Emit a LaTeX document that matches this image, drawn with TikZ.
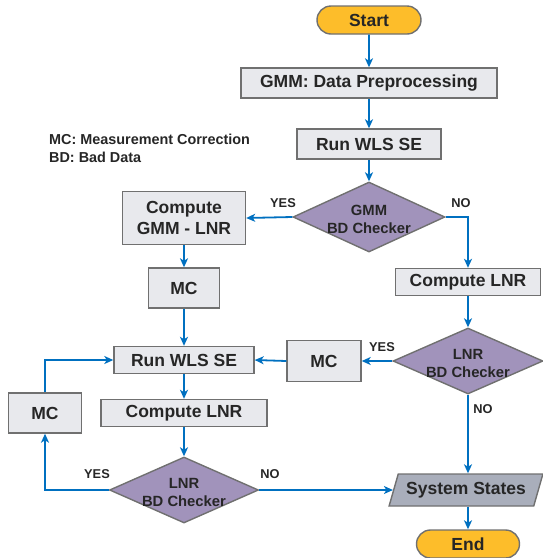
\documentclass[tikz,border=0pt]{standalone}
\usepackage{fontspec}
\setmainfont{Liberation Sans}
\usetikzlibrary{shapes.geometric,shapes.misc,arrows.meta}

\definecolor{boxfill}{HTML}{E8E9ED}
\definecolor{boxline}{HTML}{707070}
\definecolor{termfill}{HTML}{FDBD2A}
\definecolor{decfill}{HTML}{A193BB}
\definecolor{iofill}{HTML}{A9AEBB}
\definecolor{flow}{HTML}{0070C0}
\definecolor{ink}{HTML}{262626}

\newcommand\boxfont{\fontsize{17.5}{21}\selectfont\bfseries}
\newcommand\decfont{\fontsize{14.8}{18}\selectfont\bfseries}
\newcommand\notefont{\fontsize{14.4}{18}\selectfont\bfseries}
\newcommand\tagfont{\fontsize{12.8}{15}\selectfont\bfseries}

\begin{document}
\begin{tikzpicture}[x=1pt,y=-1pt,
  base/.style={draw=boxline, line width=1.4pt, inner sep=0pt, text=ink, align=center},
  procbox/.style={base, rectangle, fill=boxfill, font=\boxfont},
  terminal/.style={base, rounded rectangle, fill=termfill, font=\boxfont,
    minimum width=104pt, minimum height=28pt},
  decision/.style={base, diamond, fill=decfill,
    minimum width=152pt, minimum height=70pt},
  dectext/.style={text=ink, font=\decfont, align=center, inner sep=0pt},
  iobox/.style={base, trapezium, trapezium left angle=63, trapezium right angle=117,
    trapezium stretches=true, fill=iofill, font=\boxfont,
    minimum width=154pt, minimum height=32pt},
  flowline/.style={draw=flow, line width=1.8pt,
    -{Stealth[length=9pt,width=8pt,inset=2.5pt]}},
  tag/.style={text=ink, font=\tagfont, inner sep=0pt},
  note/.style={text=ink, font=\notefont, inner sep=0pt, anchor=west}
]
\useasboundingbox (0,0) rectangle (543,558);

% main column
\node[terminal] (start) at (369,20) {Start};
\node[procbox, minimum width=256pt, minimum height=30pt] (prep) at (369,83) {GMM: Data Preprocessing};
\node[procbox, minimum width=144pt, minimum height=30pt] (run1) at (369,144) {Run WLS SE};
\node[decision] (chk1) at (369,217) {};
\node[dectext] (chk1t) at ([yshift=-2pt]chk1.center) {GMM\\BD Checker};

% legend
\node[note] (lg1) at (49,139) {MC: Measurement Correction};
\node[note] (lg2) at (49,157) {BD: Bad Data};

% left column
\node[procbox, minimum width=123pt, minimum height=53pt] (cgl) at (184,218) {Compute\\GMM - LNR};
\node[procbox, minimum width=71pt, minimum height=40pt] (mc1) at (184,288) {MC};
\node[procbox, minimum width=140pt, minimum height=27pt] (run2) at (184,360) {Run WLS SE};
\node[procbox, minimum width=166pt, minimum height=27pt] (clnr2) at (184,413) {Compute LNR};
\node[decision, minimum width=149pt, minimum height=66pt] (chk3) at (184,490) {};
\node[dectext] (chk3t) at ([yshift=-2pt]chk3.center) {LNR\\BD Checker};
\node[procbox, minimum width=73pt, minimum height=40pt] (mc3) at (45,413) {MC};

% right column
\node[procbox, minimum width=145pt, minimum height=27pt] (clnr1) at (468,282) {Compute LNR};
\node[decision, minimum width=150pt, minimum height=66pt] (chk2) at (468,361) {};
\node[dectext] (chk2t) at ([yshift=-2pt]chk2.center) {LNR\\BD Checker};
\node[procbox, minimum width=74pt, minimum height=41pt] (mc2) at (324,361) {MC};
\node[iobox] (states) at (466,490) {System States};
\node[terminal, minimum width=103pt] (end) at (468,544) {End};

% connectors
\draw[flowline] (start) -- (prep);
\draw[flowline] (prep) -- (run1);
\draw[flowline] (run1) -- (chk1);
\draw[flowline] (chk1.west) -- (cgl.east);
\draw[flowline] (chk1.east) -| (clnr1.north);
\draw[flowline] (cgl) -- (mc1);
\draw[flowline] (mc1) -- (run2);
\draw[flowline] (clnr1) -- (chk2);
\draw[flowline] (chk2.west) -- (mc2.east);
\draw[flowline] (mc2.west) -- (run2.east);
\draw[flowline] (chk2.south) -- (chk2.south |- states.north);
\draw[flowline] (run2) -- (clnr2);
\draw[flowline] (clnr2) -- (chk3);
\draw[flowline] (chk3.west) -| (mc3.south);
\draw[flowline] (mc3.north) |- (run2.west);
\draw[flowline] (chk3.east) -- (states);
\draw[flowline] (states.south -| end.north) -- (end.north);

% branch labels
\node[tag] (y1) at (283,203) {YES};
\node[tag] (n1) at (461,203) {NO};
\node[tag] (y2) at (382,347) {YES};
\node[tag] (n2) at (483,409) {NO};
\node[tag] (y3) at (97,474) {YES};
\node[tag] (n3) at (270,474) {NO};
\end{tikzpicture}
\end{document}
